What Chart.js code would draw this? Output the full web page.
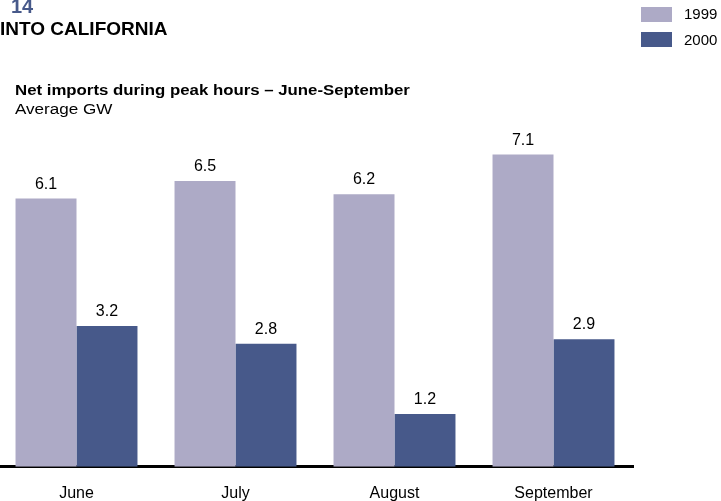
<!DOCTYPE html>
<html><head><meta charset="utf-8">
<script src="https://cdn.jsdelivr.net/npm/chart.js@4/dist/chart.umd.min.js"></script>
<style>
html,body{margin:0;padding:0;background:#fff;}
#wrap{position:relative;width:721px;height:501px;overflow:hidden;font-family:"Liberation Sans",Arial,sans-serif;}
canvas{position:absolute;left:-3px;top:0;}
.t{position:absolute;white-space:nowrap;transform-origin:0 0;}
.leg{position:absolute;left:641px;width:31px;height:15px;}
</style></head>
<body><div id="wrap">
<canvas id="c" width="721" height="501"></canvas>
<div class="t" style="left:11px;top:-4px;font-size:20px;line-height:20px;font-weight:bold;color:#47598A;">14</div>
<div class="t" style="left:0px;top:19px;font-size:19px;line-height:19px;font-weight:bold;color:#000;">INTO CALIFORNIA</div>
<div class="t" style="left:15px;top:83px;font-size:14px;line-height:14px;font-weight:bold;color:#000;transform:scaleX(1.2);">Net imports during peak hours – June-September</div>
<div class="t" style="left:15px;top:102px;font-size:14px;line-height:14px;color:#000;transform:scaleX(1.22);">Average GW</div>
<div id="legend"></div>
</div>
<script>
const categories = ["June", "July", "August", "September"];
const seriesNames = ["1999", "2000"];
const values1999 = [6.1, 6.5, 6.2, 7.1];
const values2000 = [3.2, 2.8, 1.2, 2.9];
const colors = ["#ADAAC6", "#47598A"];

const leg = document.getElementById('legend');
seriesNames.forEach((n, i) => {
  const b = document.createElement('div');
  b.className = 'leg';
  b.style.top = (7 + i * 25) + 'px';
  b.style.background = colors[i];
  leg.appendChild(b);
  const t = document.createElement('div');
  t.className = 't';
  t.style.left = '684px';
  t.style.top = (6 + i * 26) + 'px';
  t.style.fontSize = '15px';
  t.style.lineHeight = '15px';
  t.textContent = n;
  leg.appendChild(t);
});

const valueLabels = {
  id: 'valueLabels',
  afterDatasetsDraw(chart) {
    const ctx = chart.ctx;
    ctx.save();
    ctx.font = '16px "Liberation Sans", Arial, sans-serif';
    ctx.fillStyle = '#000';
    ctx.textAlign = 'center';
    ctx.textBaseline = 'alphabetic';
    chart.data.datasets.forEach((ds, di) => {
      chart.getDatasetMeta(di).data.forEach((bar, i) => {
        ctx.fillText(ds.data[i].toFixed(1), bar.x, bar.y - 10);
      });
    });
    ctx.restore();
  }
};

new Chart(document.getElementById('c'), {
  type: 'bar',
  data: {
    labels: categories,
    datasets: [
      { label: seriesNames[0], data: values1999, backgroundColor: colors[0], categoryPercentage: 0.767, barPercentage: 1.0 },
      { label: seriesNames[1], data: values2000, backgroundColor: colors[1], categoryPercentage: 0.767, barPercentage: 1.0 }
    ]
  },
  options: {
    responsive: false,
    animation: false,
    layout: { padding: { left: 0, right: 85, top: 115, bottom: -19 } },
    plugins: { legend: { display: false }, tooltip: { enabled: false } },
    scales: {
      x: {
        grid: { display: false, drawTicks: false },
        border: { display: true, color: '#000', width: 3 },
        ticks: { color: '#000', font: { size: 16, family: '"Liberation Sans", Arial, sans-serif' }, padding: 17 }
      },
      y: {
        display: false,
        min: 0, max: 8
      }
    }
  },
  plugins: [valueLabels]
});
</script>
</body></html>
